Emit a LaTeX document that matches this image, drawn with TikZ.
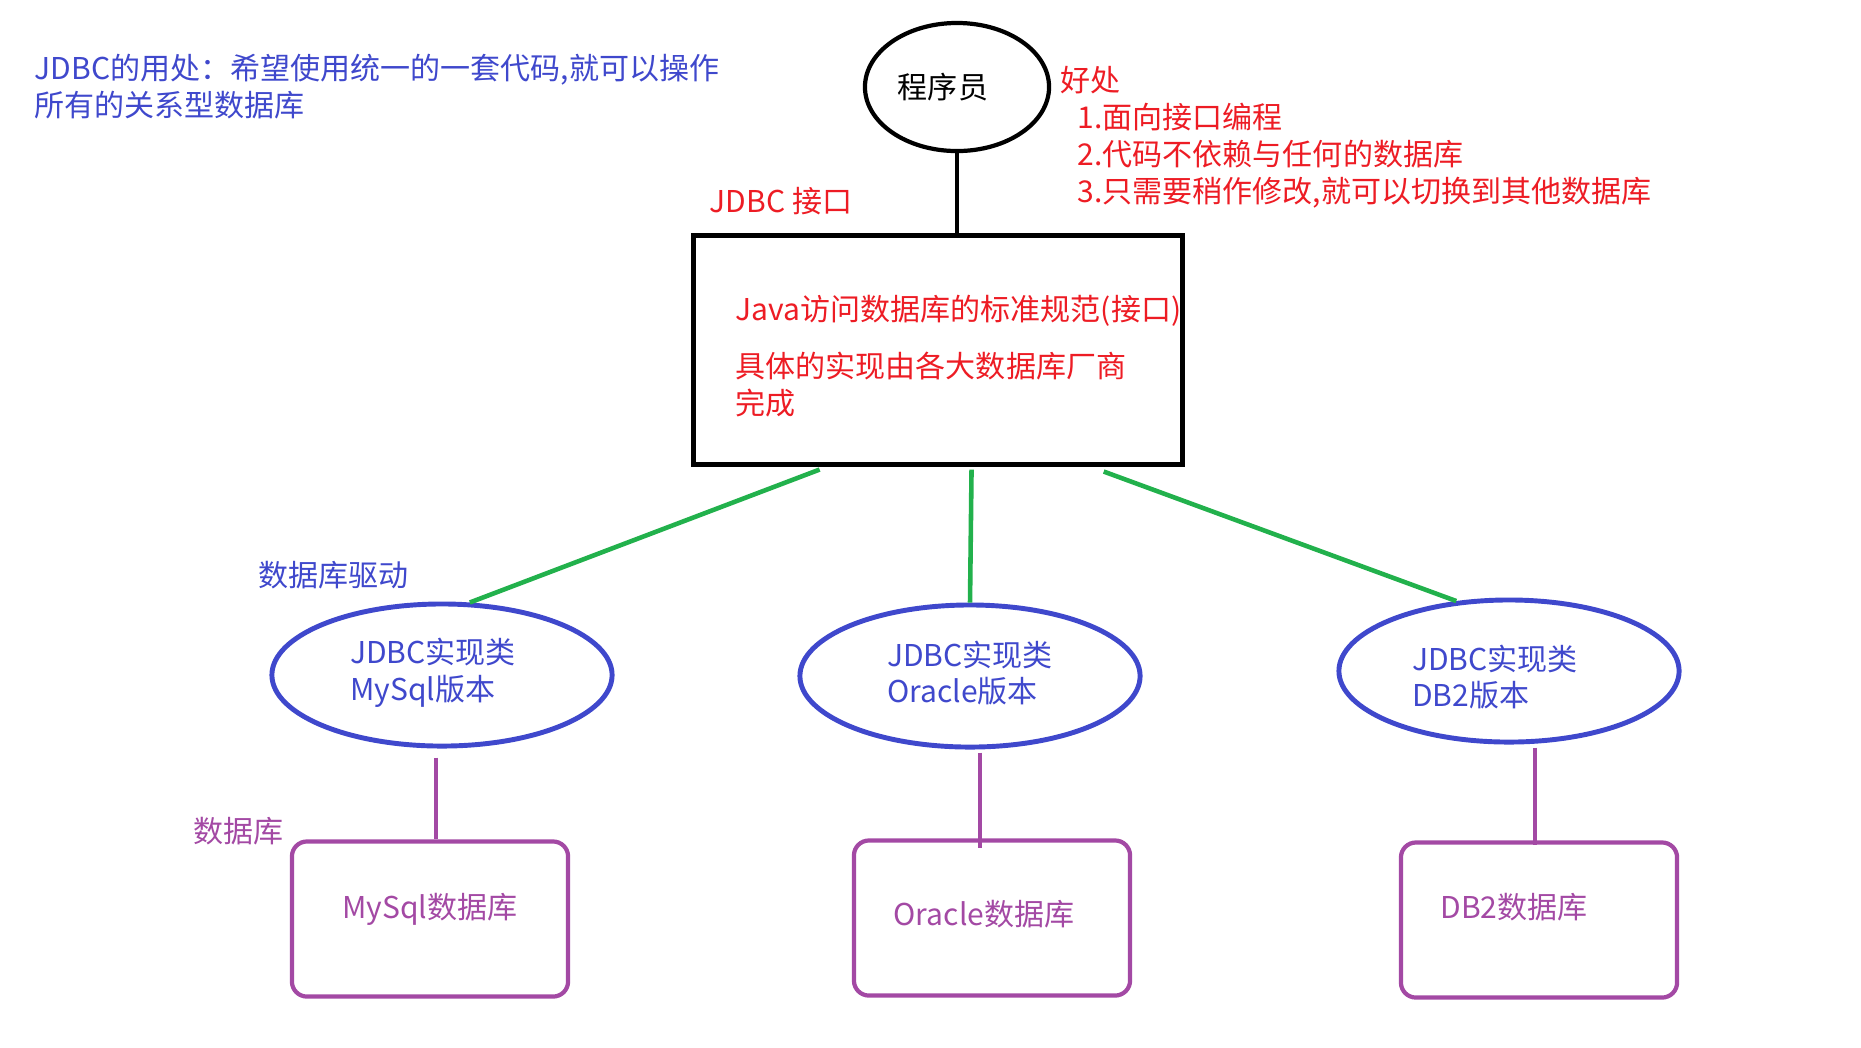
\documentclass[tikz,border=0pt]{standalone}
\usepackage{fontspec}
\setmainfont{Noto Sans CJK SC}
\usetikzlibrary{shapes.geometric, calc}
\definecolor{paintred}{RGB}{237,28,36}
\definecolor{paintblue}{RGB}{63,72,204}
\definecolor{paintgreen}{RGB}{34,177,76}
\definecolor{paintpurple}{RGB}{163,73,164}
\tikzset{
every node/.style={font=\fontsize{8.54pt}{10.5pt}\selectfont}, % one size for all the texts
note/.style={anchor=west, align=left, inner sep=0pt}, % free labels
coder/.style={draw, ellipse, line width=1.2pt, minimum width=1.84cm, minimum height=1.28cm},
iface/.style={draw, rectangle, line width=1.4pt, minimum width=4.88cm, minimum height=2.28cm},
impl/.style={draw=paintblue, ellipse, line width=1.4pt, minimum width=3.4cm, minimum height=1.42cm},
impltext/.style={text=paintblue, align=left, inner sep=0pt},
dbbox/.style={draw=paintpurple, rounded corners=0.15cm, line width=1.2pt, minimum width=2.76cm, minimum height=1.55cm},
dbtext/.style={text=paintpurple, inner sep=0pt},
implline/.style={paintgreen, line width=1.3pt},
dbline/.style={paintpurple, line width=1pt},
}

\begin{document}
\begin{tikzpicture}[x=0.01cm, y=-0.01cm]% one unit = one pixel, y downwards
  \useasboundingbox (0,0) rectangle (1861,1047);

  \node[coder] (coder) at (957,87) {};
  \node (codertext) at ($(coder)+(-14,0)$) {程序员};
  \node[iface] (iface) at (938,350) {};

  % driver classes
  \node[impl] (mysqlimpl) at (442,675) {};
  \node[impl] (oracleimpl) at (970,676) {};
  \node[impl] (dbtwoimpl) at (1509,671) {};
  \node[impltext] (mysqlimpltext) at ($(mysqlimpl)+(-9,-2)$) {JDBC实现类\\MySql版本};
  \node[impltext] (oracleimpltext) at ($(oracleimpl)+(0,-3)$) {JDBC实现类\\Oracle版本};
  \node[impltext] (dbtwoimpltext) at ($(dbtwoimpl)+(-14,6)$) {JDBC实现类\\DB2版本};

  % databases
  \node[dbbox] (mysqldb) at (430,919) {};
  \node[dbbox] (oracledb) at (992,918) {};
  \node[dbbox] (dbtwodb) at (1539,920) {};
  \node[dbtext] (mysqldbtext) at ($(mysqldb)+(0,-10)$) {MySql数据库};
  \node[dbtext] (oracledbtext) at ($(oracledb)+(-8,-4)$) {Oracle数据库};
  \node[dbtext] (dbtwodbtext) at ($(dbtwodb)+(-25,-13)$) {DB2数据库};

  % labels
  \node[note, text=paintblue] (usage) at (34,87) {JDBC的用处：希望使用统一的一套代码,就可以操作\\所有的关系型数据库};
  \node[note, text=paintred] (ifacelbl) at (709,201) {JDBC 接口};
  \node[note, text=paintred] (spec) at (735,356) {Java访问数据库的标准规范(接口)\\[0.2cm]具体的实现由各大数据库厂商\\完成};
  \node[note, text=paintred] (benefit) at (1060,137) {好处\\\hspace*{0.17cm}1.面向接口编程\\\hspace*{0.17cm}2.代码不依赖与任何的数据库\\\hspace*{0.17cm}3.只需要稍作修改,就可以切换到其他数据库};
  \node[note, text=paintblue] (driverlbl) at (258,575) {数据库驱动};
  \node[note, text=paintpurple] (dblbl) at (193,831) {数据库};

  \draw[line width=1.2pt] (coder.south) -- (coder.south |- iface.north);

  \draw[implline] ($(iface.south west)!0.26!(iface.south east)+(0,3)$) -- (mysqlimpl.69);
  \draw[implline] ($(iface.south west)!0.568!(iface.south east)+(0,3)$) -- (oracleimpl.north);
  \draw[implline] ($(iface.south west)!0.836!(iface.south east)+(0,5)$) -- (dbtwoimpl.127);

  \draw[dbline] ($(mysqlimpl.south)+(-6,9)$) -- ($(mysqlimpl.south |- mysqldb.north)+(-6,0)$);
  \draw[dbline] ($(oracleimpl.south)+(10,3)$) -- ($(oracleimpl.south |- oracledb.north)+(10,10)$);
  \draw[dbline] ($(dbtwoimpl.south)+(26,3)$) -- ($(dbtwoimpl.south |- dbtwodb.north)+(26,5)$);
\end{tikzpicture}
\end{document}
